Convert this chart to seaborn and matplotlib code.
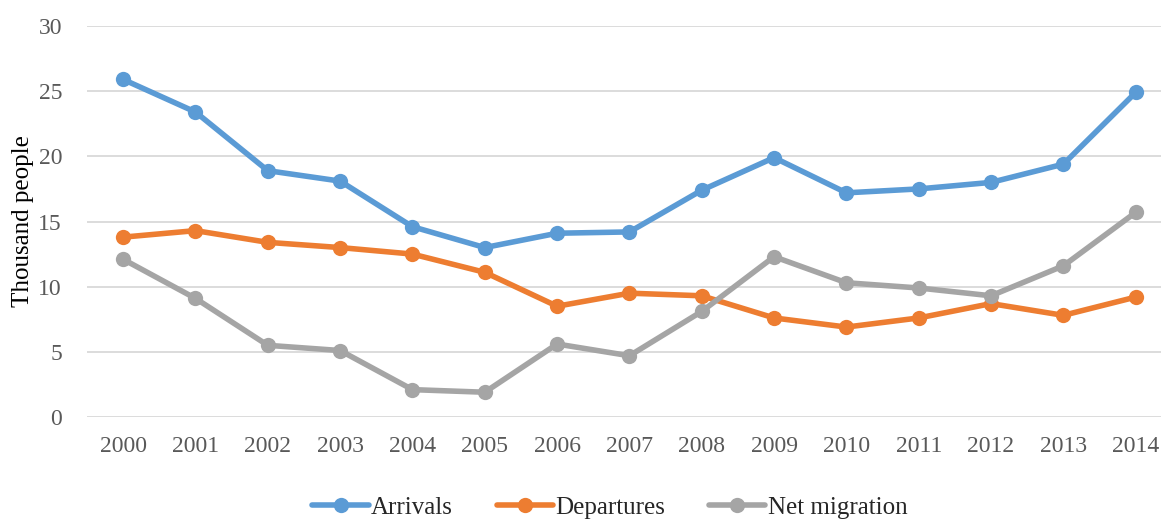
import matplotlib
matplotlib.use("Agg")
import matplotlib.pyplot as plt
import seaborn as sns
import pandas as pd

years = ["2000", "2001", "2002", "2003", "2004", "2005", "2006", "2007",
         "2008", "2009", "2010", "2011", "2012", "2013", "2014"]
arrivals = [25.9, 23.4, 18.9, 18.1, 14.6, 13.0, 14.1, 14.2, 17.4, 19.9, 17.2, 17.5, 18.0, 19.4, 24.9]
departures = [13.8, 14.3, 13.4, 13.0, 12.5, 11.1, 8.5, 9.5, 9.3, 7.6, 6.9, 7.6, 8.7, 7.8, 9.2]
net_migration = [12.1, 9.1, 5.5, 5.1, 2.1, 1.9, 5.6, 4.7, 8.1, 12.3, 10.3, 9.9, 9.3, 11.6, 15.7]
series_names = ["Arrivals", "Departures", "Net migration"]
colors = ["#5B9BD5", "#ED7D31", "#A5A5A5"]

rows = []
for name, vals in zip(series_names, [arrivals, departures, net_migration]):
    for i, (y, v) in enumerate(zip(years, vals)):
        rows.append({"idx": i, "year": y, "value": v, "series": name})
df = pd.DataFrame(rows)

sns.set_style("white")
plt.rcParams["font.family"] = ["Liberation Serif", "DejaVu Serif"]

fig = plt.figure(figsize=(11.61, 5.2), dpi=100)
ax = fig.add_axes([87 / 1161, (520 - 417) / 520, 1 - 87 / 1161, (417 - 26) / 520])

sns.lineplot(data=df, x="idx", y="value", hue="series", palette=colors,
             hue_order=series_names, marker="o", markersize=11, linewidth=4,
             markeredgewidth=0, ax=ax, legend=True)

ax.set_xlim(-0.5, 14.35)
ax.set_ylim(0, 30)
ax.set_yticks(range(0, 31, 5))
ax.set_xticks(range(len(years)))
ax.set_xticklabels(years)
ax.yaxis.grid(True, color="#D9D9D9", linewidth=1.3)
ax.set_axisbelow(True)
for s in ax.spines.values():
    s.set_visible(False)
ax.tick_params(axis="both", length=0, labelsize=17, labelcolor="#595959")
ax.tick_params(axis="x", pad=14)
ax.tick_params(axis="y", pad=18)
ax.set_xlabel("")
ax.set_ylabel("Thousand people", fontsize=18, color="black", labelpad=3)

handles, labels = ax.get_legend_handles_labels()
ax.legend(handles, labels, loc="center", bbox_to_anchor=(0.487, -0.232),
          ncol=3, frameon=False, fontsize=18, handlelength=2.25,
          handletextpad=0.1, columnspacing=1.75)

fig.savefig("out.png", dpi=100)
